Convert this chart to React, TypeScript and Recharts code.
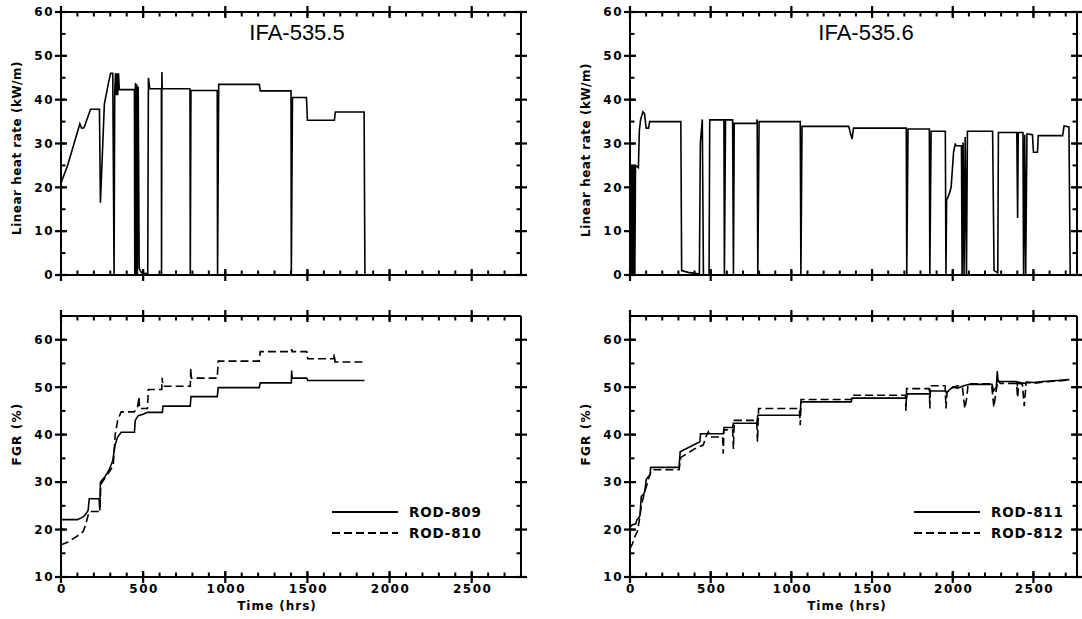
import { LineChart, Line, XAxis, YAxis, Legend } from "recharts";

type Pt = [number, number];

// IFA-535.5 linear heat rate (kW/m) vs time (hrs)
const lhr5355: Pt[] = [
  [0, 21], [40, 25], [115, 34.5], [125, 33.5], [140, 33.6], [180, 37.8], [234, 37.8],
  [240, 16.5], [264, 39], [290, 44], [302, 46], [315, 46], [323, 0], [327, 42], [332, 46],
  [336, 41], [340, 46], [345, 41], [350, 46], [355, 42.3], [447, 42.3], [449, 0], [453, 43.8],
  [457, 0], [461, 43.5], [465, 0], [470, 43], [476, 1.5], [490, 0.5], [528, 0.3], [532, 45],
  [540, 42.5], [611, 42.5], [612, 0], [614, 46.3], [616, 42.5], [785, 42.5], [787, 0],
  [791, 42.1], [951, 42.1], [953, 0], [960, 43.5], [1207, 43.5], [1213, 42], [1400, 42],
  [1402, 0], [1409, 40.5], [1494, 40.5], [1500, 35.3], [1664, 35.3], [1670, 37.2],
  [1845, 37.2], [1850, 0],
];

// IFA-535.6 linear heat rate (kW/m) vs time (hrs)
const lhr5356: Pt[] = [
  [0, 0], [3, 25], [6, 0], [10, 25], [14, 0], [18, 25], [22, 0], [26, 25], [30, 0], [34, 25],
  [52, 24.5], [58, 33], [66, 35.5], [80, 37.2], [90, 36.8], [100, 33.5], [115, 33.5],
  [122, 35], [315, 35], [320, 1], [360, 0.6], [430, 0.2], [436, 30], [448, 35.5], [455, 0],
  [490, 0], [494, 35.4], [582, 35.4], [585, 0], [592, 35.4], [636, 35.4], [641, 0],
  [646, 34.6], [785, 34.6], [788, 35.5], [792, 0], [800, 35], [1055, 35], [1059, 0],
  [1066, 33.9], [1355, 33.9], [1376, 31], [1385, 33.5], [1712, 33.5], [1715, 0],
  [1723, 33.3], [1855, 33.3], [1858, 0], [1866, 32.8], [1954, 32.8], [1958, 0], [1962, 17],
  [1978, 18.5], [1990, 20], [2005, 28], [2016, 30], [2020, 29.5], [2054, 29.5], [2058, 0],
  [2064, 30.2], [2070, 0], [2077, 31.5], [2085, 0], [2091, 32.8], [2247, 32.8], [2256, 1],
  [2279, 0.5], [2283, 32.5], [2397, 32.5], [2402, 13], [2406, 32.5], [2435, 32.5],
  [2439, 0], [2446, 32], [2452, 0], [2460, 32.2], [2494, 32], [2500, 28], [2525, 28],
  [2530, 31.8], [2681, 31.8], [2690, 34], [2720, 33.8], [2728, 0],
];

// FGR (%) for IFA-535.5 rods
const rod809: Pt[] = [
  [0, 22.1], [100, 22.1], [120, 22.4], [140, 22.8], [155, 23.5], [165, 24], [172, 26.5],
  [232, 26.5], [236, 24], [240, 30], [265, 31], [292, 32.5], [315, 34.5], [330, 38],
  [345, 39.5], [366, 40.5], [447, 40.5], [452, 43], [470, 44], [500, 44.3], [526, 44.7],
  [617, 44.7], [621, 46], [787, 46], [791, 48], [951, 48], [957, 49.9], [1207, 49.9],
  [1213, 50.9], [1402, 50.9], [1404, 53.5], [1407, 51.9], [1496, 51.9], [1502, 51.4],
  [1847, 51.4],
];
const rod810: Pt[] = [
  [0, 16.8], [40, 17.3], [80, 18.2], [115, 19], [135, 19.6], [150, 21], [165, 23],
  [176, 23.8], [234, 23.8], [238, 25], [242, 29.5], [270, 31], [300, 32.5], [318, 33.5],
  [330, 40], [345, 43], [366, 44.8], [445, 44.8], [465, 45.5], [475, 48], [478, 45.5],
  [526, 45.5], [532, 49.5], [613, 49.5], [616, 52], [620, 50.2], [787, 50.2], [790, 54],
  [793, 51.9], [951, 51.9], [957, 55.5], [1207, 55.5], [1213, 57.5], [1400, 57.5],
  [1404, 58], [1407, 57.5], [1496, 57.5], [1502, 56], [1660, 56], [1664, 57], [1668, 55.3],
  [1847, 55.3],
];

// FGR (%) for IFA-535.6 rods
const rod811: Pt[] = [
  [0, 20.5], [15, 21], [36, 21.2], [42, 22], [55, 22.5], [62, 23], [70, 27], [85, 27.5],
  [92, 28], [100, 30.5], [110, 31], [125, 31.5], [128, 33.1], [304, 33.1], [311, 36.4],
  [433, 38.5], [437, 40.2], [578, 40.2], [583, 41.5], [636, 41.5], [641, 42.4], [786, 42.4],
  [792, 44.1], [1054, 44.1], [1059, 46.9], [1371, 46.9], [1376, 47.7], [1714, 47.7],
  [1718, 48.6], [1857, 48.6], [1861, 49.2], [1955, 49.2], [1960, 48.8], [1975, 49.3],
  [2000, 50], [2030, 49.8], [2060, 50.2], [2080, 50.4], [2103, 50.6], [2243, 50.6],
  [2253, 49.2], [2270, 50], [2276, 53.4], [2281, 51.2], [2395, 51.2], [2400, 50.5],
  [2405, 51], [2445, 50.8], [2460, 51.1], [2500, 51], [2560, 51.2], [2650, 51.4],
  [2722, 51.6],
];
const rod812: Pt[] = [
  [0, 16], [15, 17], [30, 18.5], [45, 19.5], [58, 22], [70, 25], [84, 27], [96, 28.5],
  [110, 30], [122, 31.5], [133, 32.6], [304, 32.6], [315, 35.2], [400, 37], [454, 37.8],
  [470, 39.5], [485, 40.6], [500, 39.5], [574, 39.5], [578, 36], [582, 41], [636, 41],
  [641, 37], [646, 43], [785, 43], [790, 38.5], [797, 45.5], [1050, 45.5], [1055, 42],
  [1060, 47.4], [1371, 47.4], [1376, 48.3], [1707, 48.3], [1710, 45], [1714, 49.7],
  [1855, 49.7], [1858, 45.5], [1862, 50.3], [1953, 50.3], [1958, 45.5], [1965, 49],
  [1990, 49.5], [2000, 50], [2030, 50.3], [2060, 50], [2075, 45.5], [2088, 48], [2095, 50.7],
  [2240, 50.7], [2255, 45.8], [2268, 49], [2280, 51.5], [2295, 50.8], [2395, 50.8],
  [2402, 47.8], [2410, 51], [2432, 50.5], [2443, 46], [2455, 51], [2500, 50.8],
  [2600, 51.2], [2722, 51.5],
];

const xMajor = [0, 500, 1000, 1500, 2000, 2500];
const xTicks = [
  0, 100, 200, 300, 400, 500, 600, 700, 800, 900, 1000, 1100, 1200, 1300, 1400, 1500, 1600,
  1700, 1800, 1900, 2000, 2100, 2200, 2300, 2400, 2500, 2600, 2700,
];
const lhrTicks = [0, 5, 10, 15, 20, 25, 30, 35, 40, 45, 50, 55, 60];
const lhrMajor = [0, 10, 20, 30, 40, 50, 60];
const fgrTicks = [10, 15, 20, 25, 30, 35, 40, 45, 50, 55, 60];
const fgrMajor = [10, 20, 30, 40, 50, 60];

const FONT = "'DejaVu Sans', sans-serif";
const toPts = (a: Pt[]) => a.map(([t, v]) => ({ t, v }));

const IN = 4.5; // inward tick drawn by recharts (negative tickSize)
const MAJ = 6; // crossing major tick, each side

const tickText = {
  fill: "#000",
  fontFamily: FONT,
  fontWeight: 700,
  fontSize: 12,
  letterSpacing: 1.5,
};
const tickLine = { stroke: "#000", strokeWidth: 2 };
const axisLine = { stroke: "#000", strokeWidth: 2 };

// custom tick: recharts draws the inward tick, this adds the crossing major and its label
function HTick(props: any) {
  const { x, y, payload, side, labels } = props;
  if (!xMajor.includes(payload.value)) return <g />;
  const a = side === "bottom" ? y + IN : y - IN;
  return (
    <g>
      <line x1={x} x2={x} y1={a - MAJ} y2={a + MAJ} stroke="#000" strokeWidth={2.2} />
      {labels && (
        <text x={x + 1} y={a + 16} textAnchor="middle" {...tickText}>
          {payload.value}
        </text>
      )}
    </g>
  );
}

function VTick(props: any) {
  const { x, y, payload, side, majors, labels } = props;
  if (!majors.includes(payload.value)) return <g />;
  const a = side === "left" ? x - IN : x + IN;
  return (
    <g>
      <line x1={a - MAJ} x2={a + MAJ} y1={y} y2={y} stroke="#000" strokeWidth={2.2} />
      {labels && (
        <text x={a - 7} y={y} dy="0.36em" textAnchor="end" {...tickText}>
          {payload.value}
        </text>
      )}
    </g>
  );
}

interface SeriesDef {
  name: string;
  data: Pt[];
  dash?: string;
}

interface PanelProps {
  left: number;
  top: number;
  width: number;
  height: number;
  margin: { top: number; right: number; bottom: number; left: number };
  xMax: number;
  yDomain: [number, number];
  yTicks: number[];
  yMajor: number[];
  xLabels: boolean;
  series: SeriesDef[];
  legendAt?: { left: number; top: number };
}

function Panel(p: PanelProps) {
  return (
    <div style={{ position: "absolute", left: p.left, top: p.top }}>
      <LineChart width={p.width} height={p.height} margin={p.margin}>
        <XAxis
          xAxisId="b"
          dataKey="t"
          type="number"
          orientation="bottom"
          domain={[0, p.xMax]}
          allowDataOverflow
          ticks={xTicks}
          interval={0}
          height={20}
          tickSize={-IN}
          tickMargin={0}
          tickLine={tickLine}
          axisLine={axisLine}
          tick={(tp: any) => <HTick {...tp} side="bottom" labels={p.xLabels} />}
        />
        <XAxis
          xAxisId="t"
          dataKey="t"
          type="number"
          orientation="top"
          domain={[0, p.xMax]}
          allowDataOverflow
          ticks={xTicks}
          interval={0}
          height={8}
          tickSize={-IN}
          tickMargin={0}
          tickLine={tickLine}
          axisLine={axisLine}
          tick={(tp: any) => <HTick {...tp} side="top" labels={false} />}
        />
        <YAxis
          yAxisId="l"
          type="number"
          orientation="left"
          domain={p.yDomain}
          allowDataOverflow
          ticks={p.yTicks}
          interval={0}
          width={40}
          tickSize={-IN}
          tickMargin={0}
          tickLine={tickLine}
          axisLine={axisLine}
          tick={(tp: any) => <VTick {...tp} side="left" majors={p.yMajor} labels />}
        />
        <YAxis
          yAxisId="r"
          type="number"
          orientation="right"
          domain={p.yDomain}
          allowDataOverflow
          ticks={p.yTicks}
          interval={0}
          width={4}
          tickSize={-IN}
          tickMargin={0}
          tickLine={tickLine}
          axisLine={axisLine}
          tick={(tp: any) => <VTick {...tp} side="right" majors={p.yMajor} labels={false} />}
        />
        {/* the top and right frame axes only get ticks when a series uses them */}
        <Line
          xAxisId="t"
          yAxisId="r"
          data={toPts(p.series[0].data)}
          dataKey="v"
          stroke="none"
          legendType="none"
          dot={false}
          activeDot={false}
          isAnimationActive={false}
        />
        {p.series.map((s) => (
          <Line
            key={s.name}
            name={s.name}
            xAxisId="b"
            yAxisId="l"
            data={toPts(s.data)}
            dataKey="v"
            type="linear"
            stroke="#000"
            strokeWidth={1.6}
            strokeDasharray={s.dash}
            dot={false}
            activeDot={false}
            isAnimationActive={false}
          />
        ))}
        {p.legendAt && (
          <Legend
            layout="vertical"
            align="center"
            verticalAlign="middle"
            wrapperStyle={{ left: p.legendAt.left, top: p.legendAt.top, width: 160 }}
            content={() => (
              <div>
                {p.series.map((s) => (
                  <div
                    key={s.name}
                    style={{ display: "flex", alignItems: "center", height: 21.6 }}
                  >
                    <svg width={66} height={6} style={{ display: "block" }}>
                      <line
                        x1={0}
                        x2={66}
                        y1={3}
                        y2={3}
                        stroke="#000"
                        strokeWidth={1.8}
                        strokeDasharray={s.dash}
                      />
                    </svg>
                    <span
                      style={{
                        marginLeft: 11,
                        fontFamily: FONT,
                        fontWeight: 700,
                        fontSize: 13.5,
                        letterSpacing: 0.8,
                        lineHeight: "14px",
                      }}
                    >
                      {s.name}
                    </span>
                  </div>
                ))}
              </div>
            )}
          />
        )}
      </LineChart>
    </div>
  );
}

function VLabel({ x, y, text, spacing }: { x: number; y: number; text: string; spacing: number }) {
  return (
    <div
      style={{
        position: "absolute",
        left: x,
        top: y,
        transform: "translate(-50%, -50%) rotate(-90deg)",
        whiteSpace: "nowrap",
        fontFamily: FONT,
        fontWeight: 700,
        fontSize: 12,
        letterSpacing: spacing,
        lineHeight: "14px",
      }}
    >
      {text}
    </div>
  );
}

function HLabel({ x, y, text, size, weight, family, spacing }: any) {
  return (
    <div
      style={{
        position: "absolute",
        left: x,
        top: y,
        transform: "translate(-50%, -50%)",
        whiteSpace: "nowrap",
        fontFamily: family,
        fontWeight: weight,
        fontSize: size,
        letterSpacing: spacing,
        lineHeight: `${size + 2}px`,
      }}
    >
      {text}
    </div>
  );
}

export default function App() {
  const topMargin = { top: 4, right: 16, bottom: 5, left: 21 };
  const topMarginR = { top: 4, right: 1, bottom: 5, left: 49 };
  const botMargin = { top: 8, right: 16, bottom: 22, left: 21 };
  const botMarginR = { top: 8, right: 1, bottom: 22, left: 49 };
  return (
    <div
      style={{
        position: "absolute",
        left: 0,
        top: 0,
        width: 1082,
        height: 619,
        background: "#fff",
        overflow: "hidden",
      }}
    >
      <Panel
        left={0}
        top={0}
        width={541}
        height={300}
        margin={topMargin}
        xMax={2800}
        yDomain={[0, 60]}
        yTicks={lhrTicks}
        yMajor={lhrMajor}
        xLabels={false}
        series={[{ name: "IFA-535.5", data: lhr5355 }]}
      />
      <Panel
        left={541}
        top={0}
        width={541}
        height={300}
        margin={topMarginR}
        xMax={2770}
        yDomain={[0, 60]}
        yTicks={lhrTicks}
        yMajor={lhrMajor}
        xLabels={false}
        series={[{ name: "IFA-535.6", data: lhr5356 }]}
      />
      <Panel
        left={0}
        top={300}
        width={541}
        height={319}
        margin={botMargin}
        xMax={2800}
        yDomain={[10, 65]}
        yTicks={fgrTicks}
        yMajor={fgrMajor}
        xLabels
        series={[
          { name: "ROD-809", data: rod809 },
          { name: "ROD-810", data: rod810, dash: "8 4" },
        ]}
        legendAt={{ left: 332, top: 201 }}
      />
      <Panel
        left={541}
        top={300}
        width={541}
        height={319}
        margin={botMarginR}
        xMax={2770}
        yDomain={[10, 65]}
        yTicks={fgrTicks}
        yMajor={fgrMajor}
        xLabels
        series={[
          { name: "ROD-811", data: rod811 },
          { name: "ROD-812", data: rod812, dash: "8 4" },
        ]}
        legendAt={{ left: 373, top: 201 }}
      />
      <HLabel x={297} y={33} text="IFA-535.5" size={22} weight={400} family="'Liberation Sans', Arial, sans-serif" spacing={0} />
      <HLabel x={866} y={33} text="IFA-535.6" size={22} weight={400} family="'Liberation Sans', Arial, sans-serif" spacing={0} />
      <VLabel x={17} y={148} text="Linear heat rate (kW/m)" spacing={0.5} />
      <VLabel x={586} y={150} text="Linear heat rate (kW/m)" spacing={0.5} />
      <VLabel x={17} y={434} text="FGR (%)" spacing={1.2} />
      <VLabel x={586} y={434} text="FGR (%)" spacing={1.2} />
      <HLabel x={277} y={606} text="Time (hrs)" size={12} weight={700} family={FONT} spacing={1} />
      <HLabel x={847} y={606} text="Time (hrs)" size={12} weight={700} family={FONT} spacing={1} />
    </div>
  );
}
